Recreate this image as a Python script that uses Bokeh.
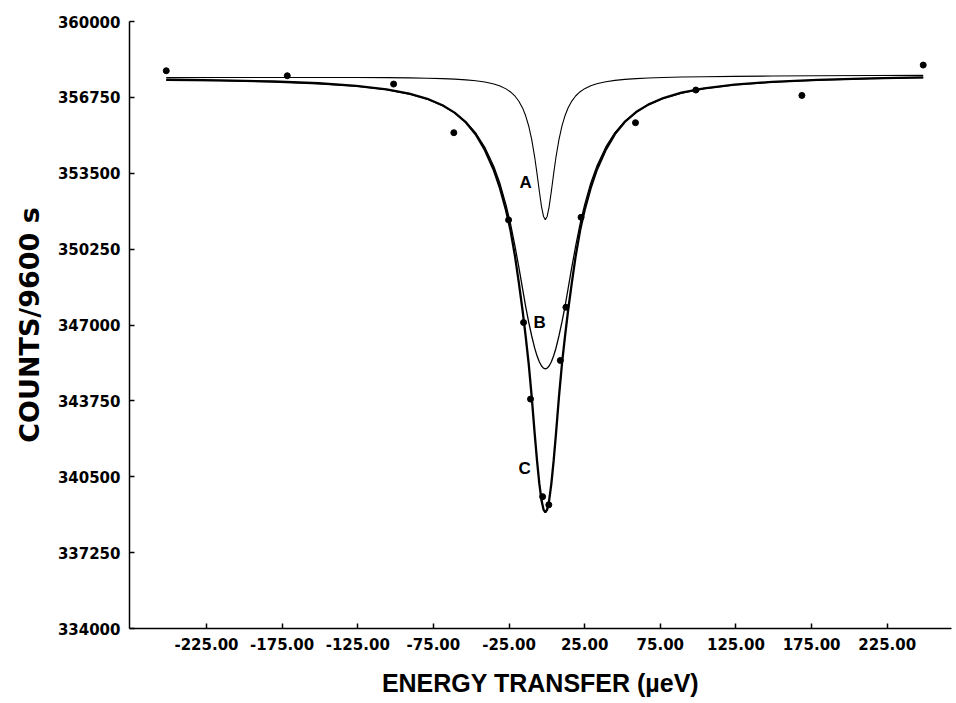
from bokeh.plotting import figure
from bokeh.models import FixedTicker
from bokeh.core.properties import value
from bokeh.embed import file_html
from bokeh.resources import INLINE

# ---- data ----
x_ticks = [-225, -175, -125, -75, -25, 25, 75, 125, 175, 225]
x_tick_labels = ["-225.00", "-175.00", "-125.00", "-75.00", "-25.00",
                 "25.00", "75.00", "125.00", "175.00", "225.00"]
y_ticks = [334000, 337250, 340500, 343750, 347000, 350250, 353500, 356750, 360000]
y_tick_labels = ["334000", "337250", "340500", "343750", "347000",
                 "350250", "353500", "356750", "360000"]

# measured points
pts_x = [-251.6, -171.6, -101.3, -61.5, -25.3, -15.4, -10.8, -2.8, 1.3,
         8.9, 12.6, 22.6, 58.6, 98.5, 168.6, 248.8]
pts_y = [357890, 357676, 357320, 355237, 351501, 347107, 343825, 339648, 339297,
         345481, 347761, 351612, 355665, 357064, 356833, 358134]

# curves (energy transfer, counts)
curve_x = [-251.6, -216, -181, -151, -126, -106, -91, -79, -69, -61, -53.5, -47, -41,
           -35, -31, -27, -24, -21, -18.5, -16, -14, -12, -10, -8, -6.5, -5, -3.5,
           -2.2, -1, 0.2, 1.5, 3, 4.5, 6, 8, 10, 12, 14, 16.5, 19, 22, 25, 29, 33,
           39, 45, 51.5, 59, 67, 77, 89, 104, 124, 149, 179, 214, 248.8]
curve_a = [357594, 357599, 357602, 357603, 357600, 357594, 357584, 357570, 357552,
           357531, 357500, 357461, 357406, 357321, 357237, 357114, 356983, 356800,
           356585, 356288, 355961, 355525, 354940, 354173, 353483, 352740, 352059,
           351649, 351514,
           351649, 352060, 352742, 353485, 354176, 354944, 355529, 355966, 356294,
           356592, 356808, 356992, 357124, 357249, 357335, 357422, 357479, 357521,
           357555, 357579, 357601, 357620, 357636, 357650, 357663, 357674, 357685,
           357694]
curve_b = [357499, 357471, 357421, 357344, 357232, 357079, 356895, 356672, 356400,
           356094, 355695, 355223, 354611, 353781, 353058, 352146, 351329, 350356,
           349469, 348536, 347787, 347127, 346529, 346001, 345680, 345425, 345243,
           345153, 345125,
           345153, 345244, 345427, 345682, 346004, 346533, 347131, 347792, 348542,
           349476, 350364, 351338, 352156, 353070, 353795, 354627, 355241, 355716,
           356118, 356427, 356703, 356931, 357121, 357282, 357404, 357493, 357557,
           357599]
curve_c = [357504, 357477, 357429, 357355, 357246, 357096, 356914, 356690, 356413,
           356096, 355675, 355161, 354497, 353626, 352863, 351914, 351048, 349920,
           348801, 347593, 346512, 345337, 343917, 342314, 341188, 340215, 339480,
           339095, 338976,
           339095, 339481, 340217, 341190, 342317, 343921, 345341, 346517, 347599,
           348808, 349928, 351057, 351924, 352875, 353640, 354513, 355179, 355696,
           356120, 356440, 356721, 356950, 357138, 357296, 357415, 357501, 357563,
           357604]

curve_labels = ["A", "B", "C"]
curve_label_x = [-14.1, -4.8, -14.7]
curve_label_y = [353084, 347120, 340846]

# ---- figure ----
p = figure(width=952, height=700, x_range=(-275.9, 267.5), y_range=(334000, 360000),
           output_backend="svg", toolbar_location=None,
           min_border_left=129, min_border_right=1, min_border_top=21, min_border_bottom=72)

p.outline_line_color = None
p.xgrid.grid_line_color = None
p.ygrid.grid_line_color = None
p.background_fill_color = "white"
p.border_fill_color = "white"

for ax in (p.xaxis, p.yaxis):
    ax.axis_line_color = "black"
    ax.axis_line_width = 1.5
    ax.major_tick_line_color = "black"
    ax.major_tick_line_width = 1.5
    ax.major_tick_in = 5
    ax.major_tick_out = 0
    ax.minor_tick_line_color = None
    ax.major_label_text_color = "black"
    ax.major_label_text_font = "DejaVu Sans"
    ax.major_label_text_font_style = "bold"
    ax.axis_label_text_color = "black"

p.xaxis.ticker = FixedTicker(ticks=x_ticks)
p.xaxis.major_label_overrides = dict(zip(x_ticks, x_tick_labels))
p.xaxis.major_label_text_font_size = "15px"
p.xaxis.major_label_standoff = 9
p.xaxis.axis_label = "ENERGY TRANSFER (µeV)"
p.xaxis.axis_label_text_font = "Liberation Sans"
p.xaxis.axis_label_text_font_style = "bold"
p.xaxis.axis_label_text_font_size = "25px"
p.xaxis.axis_label_standoff = 16

p.yaxis.ticker = FixedTicker(ticks=y_ticks)
p.yaxis.major_label_overrides = dict(zip(y_ticks, y_tick_labels))
p.yaxis.major_label_text_font_size = "15px"
p.yaxis.major_label_standoff = 9
p.yaxis.axis_label = "COUNTS/9600 s"
p.yaxis.axis_label_text_font = "DejaVu Sans"
p.yaxis.axis_label_text_font_style = "bold"
p.yaxis.axis_label_text_font_size = "27px"
p.yaxis.axis_label_standoff = 10

p.line(curve_x, curve_a, line_color="black", line_width=1.1)
p.line(curve_x, curve_b, line_color="black", line_width=1.3)
p.line(curve_x, curve_c, line_color="black", line_width=2.3)
p.scatter(pts_x, pts_y, size=6, fill_color="black", line_color="black")

p.text(x=curve_label_x, y=curve_label_y, text=curve_labels,
       text_font=value("Liberation Sans"), text_font_style="bold",
       text_font_size="17px", text_align="center", text_baseline="middle",
       text_color="black")

open("out.html", "w").write(file_html(p, INLINE))
